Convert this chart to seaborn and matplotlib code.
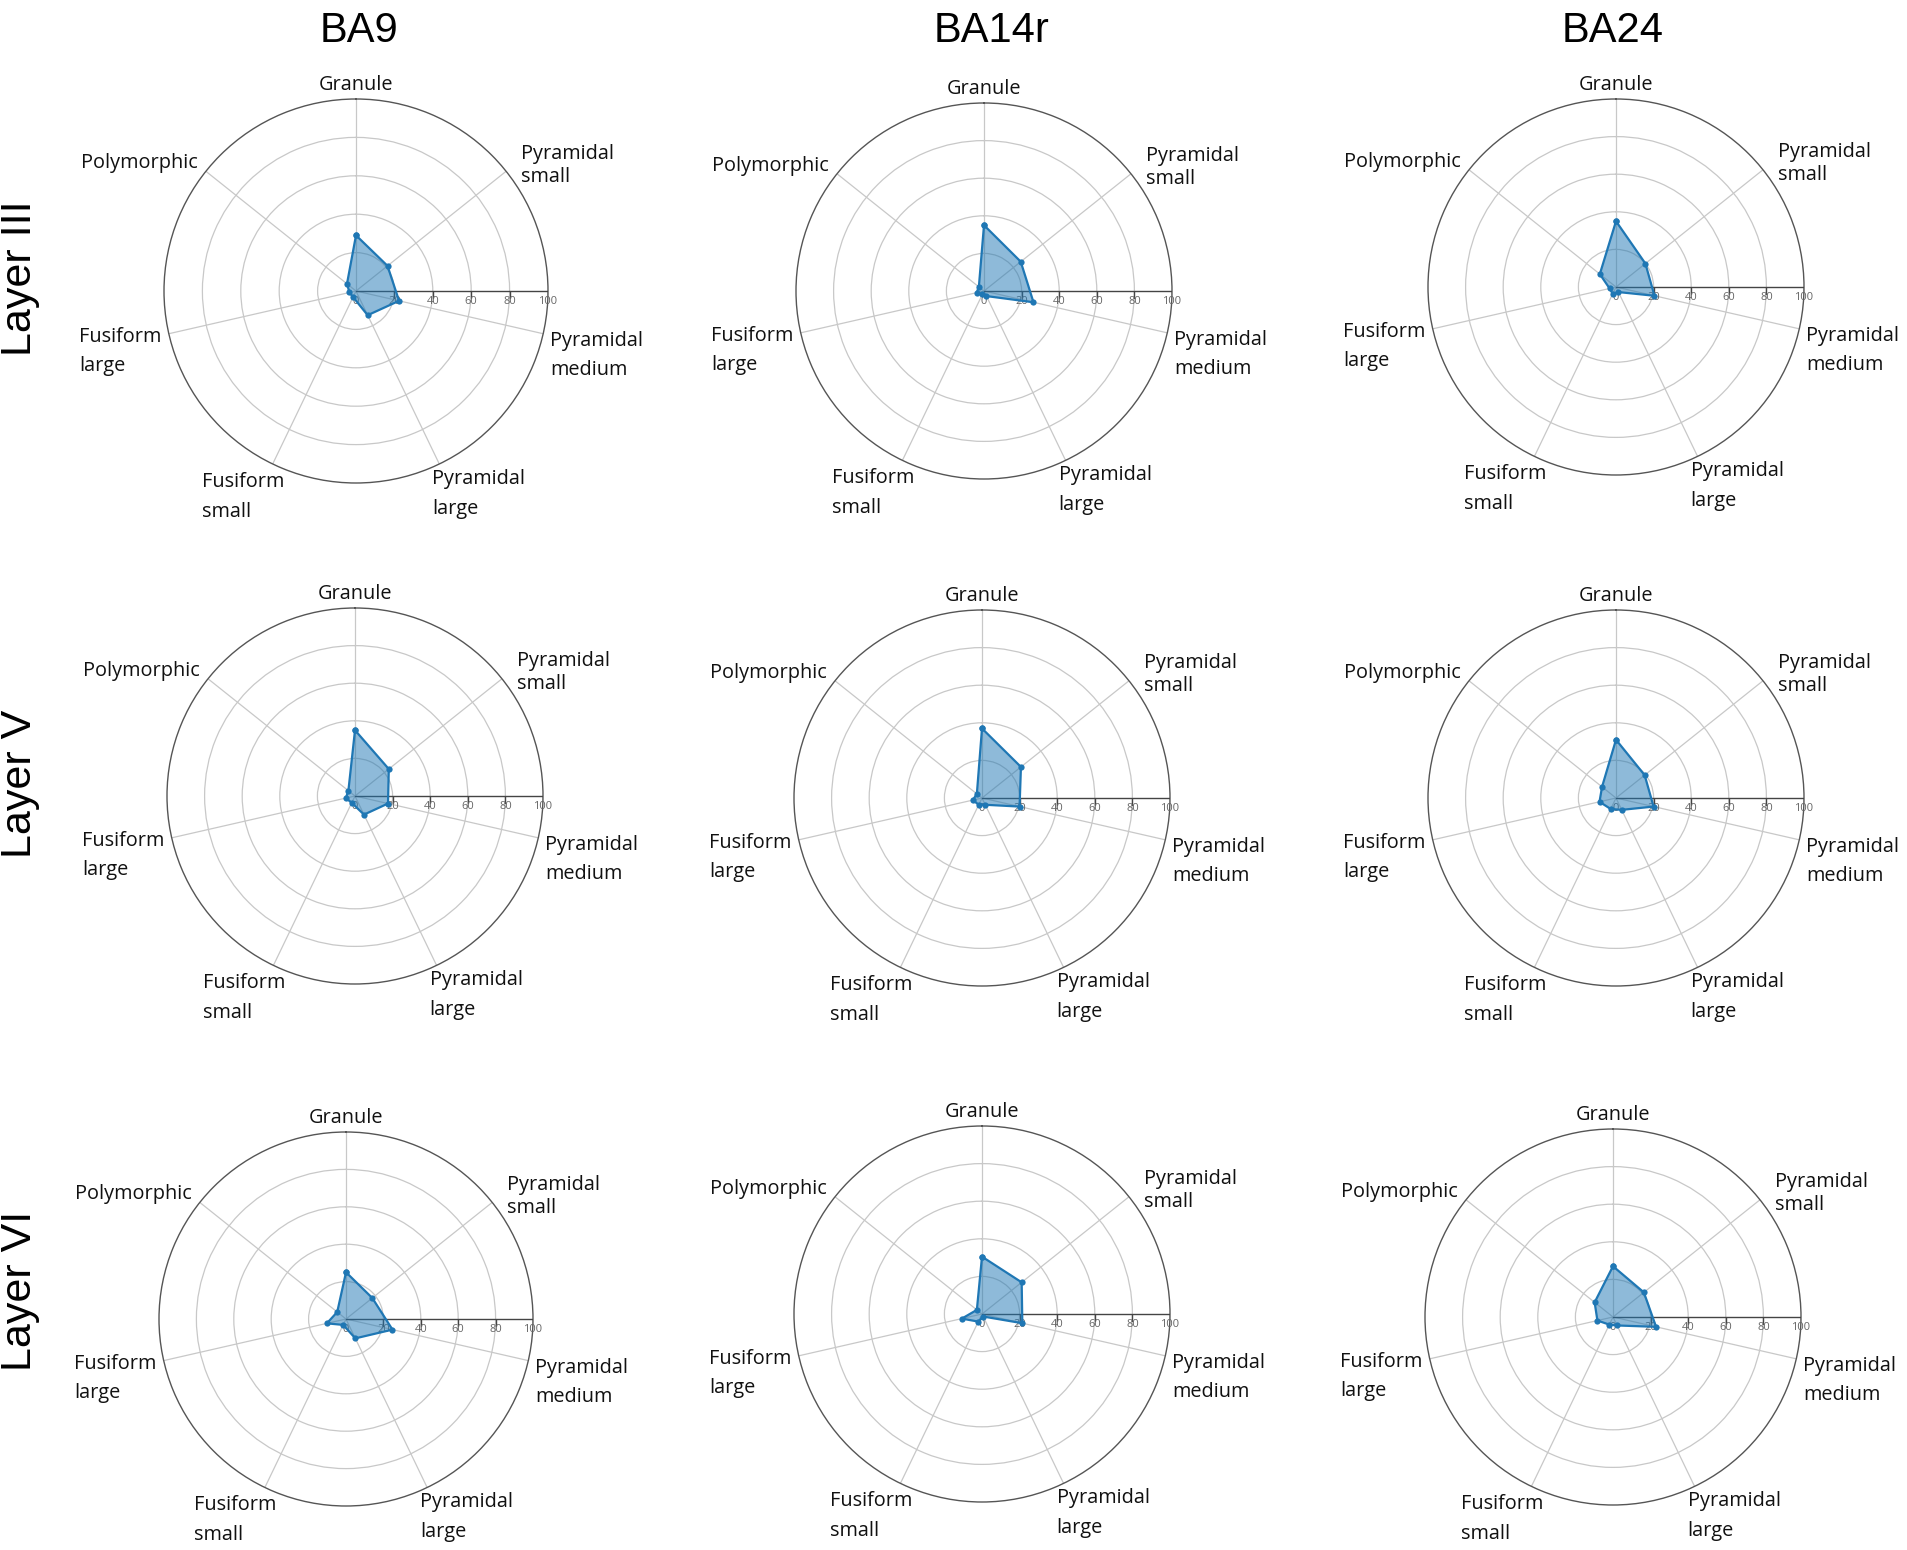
import numpy as np
import matplotlib
matplotlib.use("Agg")
import matplotlib.pyplot as plt
import seaborn as sns

categories = ["Granule", "Pyramidal\nsmall", "Pyramidal\nmedium", "Pyramidal\nlarge",
              "Fusiform\nsmall", "Fusiform\nlarge", "Polymorphic"]
areas = ["BA9", "BA14r", "BA24"]
layers = ["Layer III", "Layer V", "Layer VI"]
radial_ticks = [0, 20, 40, 60, 80, 100]

# values per layer, per area (order as in categories)
layer3_ba9 = [29, 21, 23, 14, 3.5, 3.5, 6]
layer3_ba14r = [35, 25, 27, 3, 2, 4, 3.5]
layer3_ba24 = [35, 20, 21, 3, 4, 3.5, 11]
layer5_ba9 = [35, 23, 18, 11, 4, 5, 4.5]
layer5_ba14r = [37, 26.5, 20.5, 4, 4, 5, 3.5]
layer5_ba24 = [31, 19.5, 20.5, 7, 6.5, 9, 9.5]
layer6_ba9 = [25, 18, 25.5, 11.5, 3.5, 10.5, 6]
layer6_ba14r = [30.5, 27, 22, 1.5, 4.5, 11, 3.5]
layer6_ba24 = [27, 21, 23.5, 5, 4.5, 8.5, 12.5]

data = [[layer3_ba9, layer3_ba14r, layer3_ba24],
        [layer5_ba9, layer5_ba14r, layer5_ba24],
        [layer6_ba9, layer6_ba14r, layer6_ba24]]

W, H = 1907, 1550
centers = [[(356, 291, 192), (984, 291, 188), (1616, 287, 188)],
           [(355, 796, 188), (982, 798, 188), (1616, 798, 188)],
           [(346, 1319, 187), (982, 1314, 188), (1613, 1317, 188)]]

# label placement: (ha, va, dx, dy, linespacing)
label_style = [("center", "baseline", 0, 9, 1.0),
               ("left", "center", 15, 6, 1.2),
               ("left", "top", 7, 3, 1.64),
               ("left", "top", -7, -5, 1.64),
               ("right", "top", 12, -8, 1.64),
               ("right", "top", -7, 7, 1.64),
               ("right", "center", -8, 8, 1.0)]

blue = "#1f77b4"
label_font = ["Open Sans", "DejaVu Sans"]

fig = plt.figure(figsize=(W / 100, H / 100), dpi=100)

theta = np.linspace(0, 2 * np.pi, len(categories), endpoint=False)
theta_closed = np.append(theta, 2 * np.pi)
right_dir = np.pi / 2

for i in range(3):
    for j in range(3):
        cx, cy, R = centers[i][j]
        ax = fig.add_axes([(cx - R) / W, 1 - (cy + R) / H, 2 * R / W, 2 * R / H],
                          projection="polar")
        ax.set_theta_offset(np.pi / 2)
        ax.set_theta_direction(-1)
        ax.set_ylim(0, 100)
        ax.set_xticks(theta)
        ax.set_xticklabels([])
        ax.set_yticks([20, 40, 60, 80])
        ax.set_yticklabels([])
        ax.tick_params(length=0)
        ax.grid(True, color="#c8c8c8", linewidth=0.9)
        ax.spines["polar"].set_color("#555555")
        ax.spines["polar"].set_linewidth(1.0)
        ax.set_facecolor("white")

        # radial axis line with ticks
        ax.plot([right_dir, right_dir], [0, 100], color="#444444", linewidth=1.0, zorder=3)
        ax.plot([right_dir] * 5, radial_ticks[1:], linestyle="", marker=3,
                markersize=5, color="#444444", zorder=3)
        for t in radial_ticks:
            ax.annotate(str(t), (right_dir, t), xytext=(0, -5), textcoords="offset pixels",
                        ha="center", va="top", fontsize=8, color="#666666",
                        family=label_font, annotation_clip=False)

        vals = data[i][j]
        vals_closed = vals + [vals[0]]
        ax.fill(theta_closed, vals_closed, color=blue, alpha=0.5, linewidth=0, zorder=4)
        sns.lineplot(x=theta_closed, y=vals_closed, sort=False, estimator=None, ax=ax,
                     color=blue, linewidth=1.6, marker="o", markersize=4.5,
                     markeredgewidth=0, zorder=5)
        ax.set_xlabel("")
        ax.set_ylabel("")

        for k, name in enumerate(categories):
            ha, va, dx, dy, ls = label_style[k]
            ax.annotate(name, (theta[k], 100), xytext=(dx, dy), textcoords="offset pixels",
                        ha=ha, va=va, multialignment="left", linespacing=ls,
                        fontsize=14.3, family=label_font, color="#111111",
                        annotation_clip=False)

title_x = [359, 992, 1613]
for j, name in enumerate(areas):
    fig.text(title_x[j] / W, 1 - 42 / H, name, ha="center", va="baseline",
             fontsize=30, family=["Liberation Sans", "DejaVu Sans"])

row_y = [278, 784, 1291]
for i, name in enumerate(layers):
    fig.text(20 / W, 1 - row_y[i] / H, name, ha="center", va="center", rotation=90,
             fontsize=31, family=["Liberation Sans", "DejaVu Sans"])

fig.savefig("out.png", dpi=100, facecolor="white")
